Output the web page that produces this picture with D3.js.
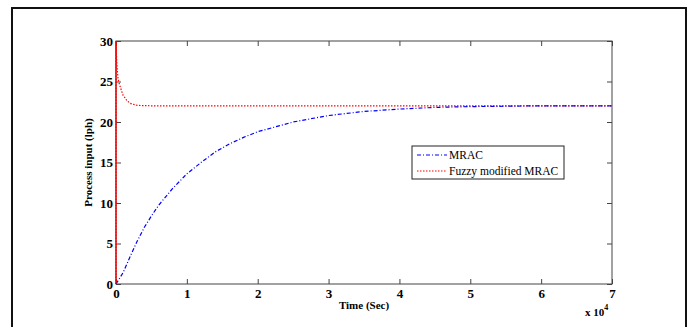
<!DOCTYPE html>
<html><head><meta charset="utf-8">
<script src="https://cdn.jsdelivr.net/npm/d3@7"></script>
<style>body{margin:0;background:#fff}svg{display:block}</style>
</head><body>
<svg id="c" width="691" height="327"></svg>
<script>
const xTicks = [0,1,2,3,4,5,6,7];
const yTicks = [0,5,10,15,20,25,30];
const mracT = [0,0.1,0.2,0.3,0.4,0.5,0.6,0.8,1.0,1.2,1.4,1.6,1.8,2.0,2.5,3.0,3.5,4.0,4.5,5,6,7];
const mracV = [0,1.4,3.4,5.3,7.0,8.4,9.7,11.8,13.6,15.0,16.3,17.3,18.1,18.8,20.0,20.8,21.3,21.6,21.8,21.9,22.0,22.0];
const fuzzyT = [0,0,0.01,0.02,0.03,0.05,0.08,0.1,0.15,0.2,0.3,0.5,1,2,3,4,5,6,7];
const fuzzyV = [0,30,27.5,26.2,25.3,24.6,23.8,23.3,22.7,22.3,22.05,22,22,22,22,22,22,22,22];
const seriesNames = ["MRAC","Fuzzy modified MRAC"];

const svg = d3.select("#c");
svg.append("rect").attr("x",12).attr("y",8).attr("width",674).attr("height",330)
  .attr("fill","none").attr("stroke","#111").attr("stroke-width",2);

const L=116,R=612,T=41,B=284;
const x = d3.scaleLinear().domain([0,7]).range([L,R]);
const y = d3.scaleLinear().domain([0,30]).range([B,T]);

const g = svg.append("g");
g.append("rect").attr("x",L).attr("y",T).attr("width",R-L).attr("height",B-T)
  .attr("fill","none").attr("stroke","#444").attr("stroke-width",1);

const fontT = '"Liberation Serif"';
const xa = g.append("g").attr("transform",`translate(0,${B})`)
  .call(d3.axisBottom(x).tickValues(xTicks).tickSize(-5).tickPadding(5).tickFormat(d3.format("d")));
const xt = g.append("g").attr("transform",`translate(0,${T})`)
  .call(d3.axisTop(x).tickValues(xTicks).tickSize(-5).tickFormat(""));
const ya = g.append("g").attr("transform",`translate(${L},0)`)
  .call(d3.axisLeft(y).tickValues(yTicks).tickSize(-5).tickPadding(3).tickFormat(d3.format("d")));
const yr = g.append("g").attr("transform",`translate(${R},0)`)
  .call(d3.axisRight(y).tickValues(yTicks).tickSize(-5).tickFormat(""));
[xa,xt,ya,yr].forEach(a=>{
  a.attr("font-family",null);
  a.select(".domain").remove();
  a.selectAll("line").attr("stroke","#444");
  a.selectAll("text").style("font-family",fontT).style("font-weight","bold").attr("font-size",13).attr("fill","#000");
});

const line = d3.line().x(d=>x(d[0])).y(d=>y(d[1]));
const mrac = mracT.map((t,i)=>[t,mracV[i]]);
const fuzzy = fuzzyT.map((t,i)=>[t,fuzzyV[i]]);
g.append("path").datum(fuzzy).attr("d",line).attr("fill","none")
  .attr("stroke","#f00").attr("stroke-width",1.2).attr("stroke-dasharray","1.5,1.5");
g.append("path").datum(mrac).attr("d",line).attr("fill","none")
  .attr("stroke","#00f").attr("stroke-width",1.2).attr("stroke-dasharray","4,2,1,2");
g.append("line").attr("x1",x(0)).attr("x2",x(0)).attr("y1",y(0)).attr("y2",y(30))
  .attr("stroke","#f00").attr("stroke-width",1.2);

svg.append("text").attr("x",(L+R)/2).attr("y",309).attr("text-anchor","middle")
  .style("font-family",fontT).style("font-weight","bold").attr("font-size",11).text("Time (Sec)");
const ex = svg.append("text").attr("x",585).attr("y",316)
  .style("font-family",fontT).style("font-weight","bold").attr("font-size",11);
ex.append("tspan").text("x 10");
ex.append("tspan").attr("dy",-6).attr("font-size",8).text("4");
svg.append("text").attr("transform",`translate(92,${(T+B)/2}) rotate(-90)`).attr("text-anchor","middle")
  .style("font-family",fontT).style("font-weight","bold").attr("font-size",11).text("Process input (lph)");

const lg = svg.append("g");
lg.append("rect").attr("x",412).attr("y",146).attr("width",152).attr("height",33)
  .attr("fill","#fff").attr("stroke","#222").attr("stroke-width",1);
const styles = [{c:"#00f",d:"4,2,1,2"},{c:"#f00",d:"1.5,1.5"}];
seriesNames.forEach((n,i)=>{
  const yy = 155 + i*16;
  lg.append("line").attr("x1",417).attr("x2",447).attr("y1",yy).attr("y2",yy)
    .attr("stroke",styles[i].c).attr("stroke-width",1.2).attr("stroke-dasharray",styles[i].d);
  lg.append("text").attr("x",449).attr("y",yy+4).style("font-family",fontT).attr("font-size",11.5).text(n);
});
</script>
</body></html>
